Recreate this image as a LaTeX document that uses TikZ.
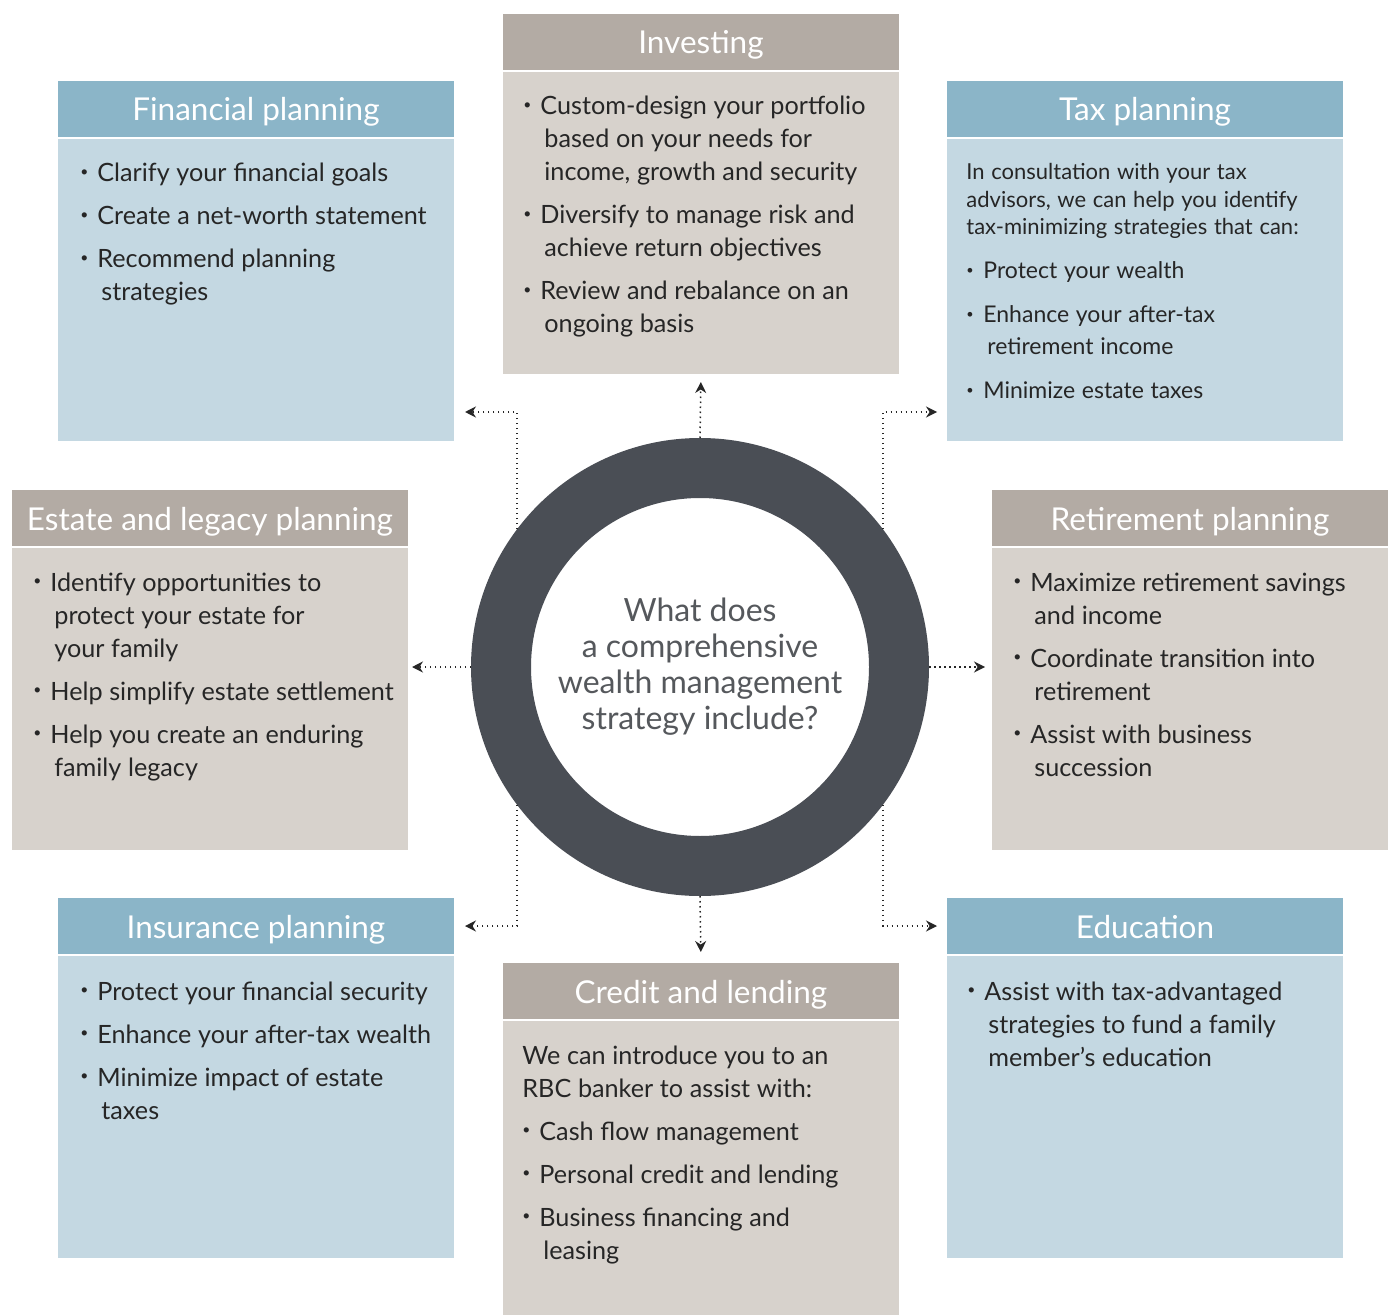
\documentclass[tikz,border=0pt]{standalone}
\usepackage{fontspec}
\setmainfont{Lato}
\usepackage{graphicx}
\usetikzlibrary{arrows.meta,positioning,calc}
\definecolor{myblue}{HTML}{8BB5C8}
\definecolor{mylightblue}{HTML}{C4D8E2}
\definecolor{mygray}{HTML}{B3ABA4}
\definecolor{mylightgray}{HTML}{D7D2CC}
\definecolor{myring}{HTML}{4A4E55}
\definecolor{mytext}{HTML}{262626}
\definecolor{mycenter}{HTML}{55585C}
\newcommand{\bodyfont}{\fontsize{12.6}{16.5}\selectfont\setlength{\parskip}{5pt}}
\newcommand{\taxfont}{\fontsize{11}{13.75}\selectfont\setlength{\parskip}{6pt}}
\newcommand{\taxitems}{\fontsize{11.5}{16}\selectfont}
\newcommand{\itm}[1]{\hangindent=10.5pt\hangafter=1\noindent\makebox[8.5pt][l]{\raisebox{0.2em}{\scalebox{0.55}{\textbullet}}}#1\par}
\tikzstyle{head}=[minimum width=198pt,minimum height=28pt,inner sep=0,outer sep=0,text=white,text height=12pt,text depth=0pt,font=\fontsize{15.75}{18}\selectfont]
\tikzstyle{link}=[draw=mytext,line width=0.75pt,dash pattern=on 0.75pt off 1.75pt,-{Stealth[length=5.5pt,width=5.5pt]}]
\tikzset{
	panel/.style={
		minimum width=198pt, minimum height=151pt,
		inner sep=0, outer sep=0, below=1pt of #1,
	},
	blurb/.style={
		anchor=base west, inner sep=0, text=mytext,
		text width=188pt, align=left,
	}
}

\begin{document}
\begin{tikzpicture}[x=0.5pt,y=-0.5pt]
	\path[use as bounding box, fill=white] (0,0) rectangle (1390,1315);
	% Centre ring
	\node[circle, draw=myring, line width=30pt, minimum size=199pt, inner sep=0, outer sep=15pt,
		align=center, text=mycenter, font=\fontsize{16}{18}\selectfont] (ring) at (700,667)
		{What does\\a comprehensive\\wealth management\\strategy include?};
	% Top row
	\node[head, fill=mygray] (invhead) at (701,42) {Investing};
	\node[panel=invhead, fill=mylightgray] (invbody) {};
	\node[blurb] (invtext) at ([shift={(20,43)}]invbody.north west) {\bodyfont
		\itm{Custom-design your portfolio\newline based on your needs for\newline income, growth and security}
		\itm{Diversify to manage risk and\newline achieve return objectives}
		\itm{Review and rebalance on an\newline ongoing basis}};
	\node[head, fill=myblue] (finhead) at (256,109) {Financial planning};
	\node[panel=finhead, fill=mylightblue] (finbody) {};
	\node[blurb] (fintext) at ([shift={(22,43)}]finbody.north west) {\bodyfont
		\itm{Clarify your financial goals}
		\itm{Create a net-worth statement}
		\itm{Recommend planning\newline strategies}};
	\node[head, fill=myblue] (taxhead) at (1145,109) {Tax planning};
	\node[panel=taxhead, fill=mylightblue] (taxbody) {};
	\node[blurb] (taxtext) at ([shift={(19,41)}]taxbody.north west) {\taxfont
		\noindent In consultation with your tax\newline advisors, we can help you identify\newline tax-minimizing strategies that can:\par
		\taxitems
		\itm{Protect your wealth}
		\itm{Enhance your after-tax\newline retirement income}
		\itm{Minimize estate taxes}};
	% Middle row
	\node[head, fill=mygray] (esthead) at (210,518) {Estate and legacy planning};
	\node[panel=esthead, fill=mylightgray] (estbody) {};
	\node[blurb] (esttext) at ([shift={(21,43)}]estbody.north west) {\bodyfont
		\itm{Identify opportunities to\newline protect your estate for\newline your family}
		\itm{Help simplify estate settlement}
		\itm{Help you create an enduring\newline family legacy}};
	\node[head, fill=mygray] (rethead) at (1190,518) {Retirement planning};
	\node[panel=rethead, fill=mylightgray] (retbody) {};
	\node[blurb] (rettext) at ([shift={(21,43)}]retbody.north west) {\bodyfont
		\itm{Maximize retirement savings\newline and income}
		\itm{Coordinate transition into\newline retirement}
		\itm{Assist with business\newline succession}};
	% Bottom row
	\node[head, fill=myblue] (inshead) at (256,926) {Insurance planning};
	\node[panel=inshead, fill=mylightblue] (insbody) {};
	\node[blurb] (instext) at ([shift={(22,44)}]insbody.north west) {\bodyfont
		\itm{Protect your financial security}
		\itm{Enhance your after-tax wealth}
		\itm{Minimize impact of estate\newline taxes}};
	\node[head, fill=mygray] (crehead) at (701,991) {Credit and lending};
	\node[panel=crehead, fill=mylightgray, minimum height=147pt] (crebody) {};
	\node[blurb] (cretext) at ([shift={(19,43)}]crebody.north west) {\bodyfont
		\noindent We can introduce you to an\newline RBC banker to assist with:\par
		\itm{Cash flow management}
		\itm{Personal credit and lending}
		\itm{Business financing and\newline leasing}};
	\node[head, fill=myblue] (eduhead) at (1145,926) {Education};
	\node[panel=eduhead, fill=mylightblue] (edubody) {};
	\node[blurb] (edutext) at ([shift={(20,44)}]edubody.north west) {\bodyfont
		\itm{Assist with tax-advantaged\newline strategies to fund a family\newline member’s education}};
	% Dotted connectors from the ring
	\draw[link, shorten >=4pt] (ring.north) -- (invbody.south);
	\draw[link, shorten >=5.5pt] (ring.south) -- (crehead.north);
	\draw[link, shorten >=2pt] (ring.west) -- (ring.west -| estbody.east);
	\draw[link, shorten >=3.5pt] (ring.east) -- (ring.east -| retbody.west);
	\draw[link, shorten >=5.5pt] (ring.143) |- ($(finbody.south east)+(0,-29)$);
	\draw[link, shorten >=5pt] (ring.37) |- ($(taxbody.south west)+(0,-29)$);
	\draw[link, shorten >=5.5pt] (ring.217) |- (inshead.east);
	\draw[link, shorten >=5pt] (ring.323) |- (eduhead.west);
\end{tikzpicture}
\end{document}
